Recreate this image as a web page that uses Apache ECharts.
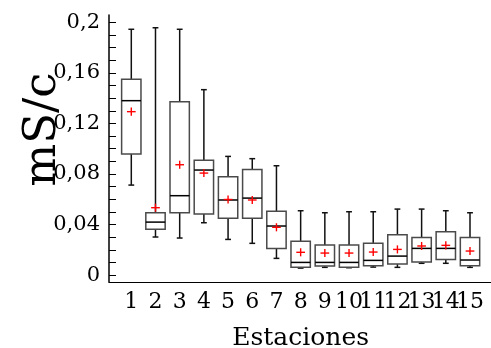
<!DOCTYPE html>
<html><head><meta charset="utf-8">
<script src="https://cdn.jsdelivr.net/npm/echarts@6/dist/echarts.min.js"></script>
<style>html,body{margin:0;padding:0;background:#fff}#c{width:491px;height:348px}</style>
</head><body><div id="c"></div>
<script>
const stations = ['1','2','3','4','5','6','7','8','9','10','11','12','13','14','15'];
const whiskerLow  = [0.0712,0.0301,0.0293,0.0414,0.0282,0.0251,0.0132,0.0055,0.0061,0.0058,0.0063,0.0061,0.0093,0.0093,0.0061];
const q1          = [0.0958,0.0362,0.0493,0.0483,0.0449,0.0449,0.0211,0.0061,0.0071,0.0061,0.0074,0.0087,0.0103,0.0124,0.0074];
const median      = [0.1380,0.0419,0.0628,0.0831,0.0594,0.0609,0.0388,0.0100,0.0100,0.0100,0.0116,0.0150,0.0211,0.0211,0.0119];
const q3          = [0.1549,0.0493,0.1372,0.0908,0.0778,0.0836,0.0504,0.0267,0.0237,0.0237,0.0251,0.0319,0.0298,0.0343,0.0298];
const whiskerHigh = [0.1945,0.1957,0.1945,0.1467,0.0939,0.0921,0.0865,0.0509,0.0493,0.0501,0.0501,0.0522,0.0522,0.0509,0.0493];
const mean        = [0.1293,0.0533,0.0873,0.0807,0.0598,0.0594,0.0378,0.0180,0.0174,0.0174,0.0182,0.0203,0.0230,0.0235,0.0190];
const yLabelValues = [0, 0.04, 0.08, 0.12, 0.16, 0.2];
const yTickValues = [0,0.01,0.02,0.03,0.04,0.05,0.06,0.07,0.08,0.09,0.1,0.11,0.12,0.13,0.14,0.15,0.16,0.17,0.18,0.19,0.2];

const chart = echarts.init(document.getElementById('c'));
const data = stations.map((s, i) => [s, whiskerLow[i], q1[i], median[i], q3[i], whiskerHigh[i], mean[i]]);

function renderBox(params, api) {
  const x = api.value(0);
  const lo = api.coord([x, api.value(1)]);
  const b1 = api.coord([x, api.value(2)]);
  const md = api.coord([x, api.value(3)]);
  const b3 = api.coord([x, api.value(4)]);
  const hi = api.coord([x, api.value(5)]);
  const mn = api.coord([x, api.value(6)]);
  const band = api.size([1, 0])[0];
  const bw = band * 0.8;
  const cw = band * 0.24;
  const pw = band * 0.36;
  const ph = api.size([0, 0.0064])[1];
  const cx = lo[0];
  const blk = {stroke: '#111', lineWidth: 1.5};
  const red = {stroke: '#ff0000', lineWidth: 1.4};
  return {type: 'group', children: [
    {type: 'line', shape: {x1: cx, y1: hi[1], x2: cx, y2: b3[1]}, style: blk},
    {type: 'line', shape: {x1: cx, y1: b1[1], x2: cx, y2: lo[1]}, style: blk},
    {type: 'line', shape: {x1: cx - cw / 2, y1: hi[1], x2: cx + cw / 2, y2: hi[1]}, style: blk},
    {type: 'line', shape: {x1: cx - cw / 2, y1: lo[1], x2: cx + cw / 2, y2: lo[1]}, style: blk},
    {type: 'rect', shape: {x: cx - bw / 2, y: b3[1], width: bw, height: b1[1] - b3[1]}, style: {fill: '#fff', stroke: '#4a4a4a', lineWidth: 1.5}},
    {type: 'line', shape: {x1: cx - bw / 2, y1: md[1], x2: cx + bw / 2, y2: md[1]}, style: {stroke: '#000', lineWidth: 1.5}},
    {type: 'line', shape: {x1: cx - pw / 2, y1: mn[1], x2: cx + pw / 2, y2: mn[1]}, style: red},
    {type: 'line', shape: {x1: cx, y1: mn[1] - ph / 2, x2: cx, y2: mn[1] + ph / 2}, style: red}
  ]};
}

const font = "'DejaVu Serif', 'Liberation Serif', serif";
chart.setOption({
  animation: false,
  backgroundColor: '#fff',
  grid: [
    {left: 119.2, right: 8.9, top: 15, bottom: 66, containLabel: false, outerBoundsMode: 'none'},
    {left: 109, right: 0, top: 15, bottom: 66, containLabel: false, outerBoundsMode: 'none'}
  ],
  xAxis: [{
    type: 'category', data: stations, gridIndex: 0, boundaryGap: true,
    name: 'Estaciones', nameLocation: 'middle', nameGap: 44, nameMoveOverlap: false,
    nameTextStyle: {fontFamily: font, fontSize: 25, color: '#000'},
    axisLine: {show: false},
    axisTick: {show: false},
    splitLine: {show: false},
    axisLabel: {interval: 0, margin: 9, fontFamily: font, fontSize: 22, color: '#000'}
  }, {
    type: 'value', gridIndex: 1, min: 0, max: 1,
    axisLine: {show: true, onZero: false, lineStyle: {color: '#000', width: 1}},
    axisTick: {show: false}, axisLabel: {show: false}, splitLine: {show: false}
  }],
  yAxis: [{
    type: 'value', gridIndex: 0, min: -0.0055, max: 0.2058, offset: 10.2,
    name: '{t|mS/c}', nameLocation: 'middle', nameGap: 43, nameMoveOverlap: false,
    nameTextStyle: {padding: [0, 0, 0, 38], rich: {t: {fontFamily: font, fontSize: 45, color: '#000'}}},
    axisLine: {show: true, lineStyle: {color: '#000', width: 1.5}},
    axisTick: {show: true, inside: true, length: 7, customValues: yTickValues, lineStyle: {color: '#000', width: 1}},
    splitLine: {show: false},
    axisLabel: {customValues: yLabelValues, margin: 9, fontFamily: font, fontSize: 21, color: '#000',
      showMinLabel: true, showMaxLabel: true,
      formatter: v => String(v).replace('.', ',')}
  }, {
    type: 'value', gridIndex: 1, min: 0, max: 1, show: false
  }],
  series: [{
    type: 'custom',
    xAxisIndex: 0, yAxisIndex: 0,
    renderItem: renderBox,
    encode: {x: 0, y: [1, 2, 3, 4, 5, 6]},
    data: data
  }]
});
</script></body></html>
